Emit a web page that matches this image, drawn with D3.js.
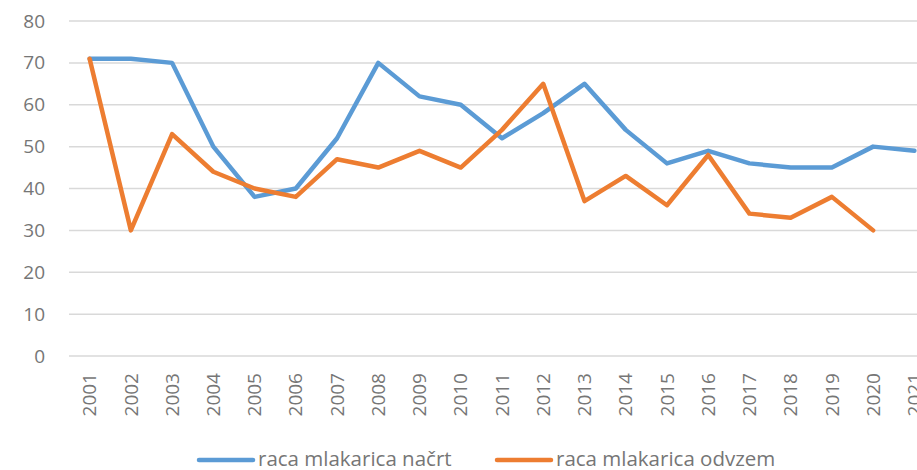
<!DOCTYPE html>
<html>
<head>
<meta charset="utf-8">
<script src="https://cdn.jsdelivr.net/npm/d3@7"></script>
<style>
  body { margin: 0; background: #fff; }
  svg { display: block; }
  text { font-family: "Open Sans", Lato, sans-serif; fill: #767676; }
</style>
</head>
<body>
<script>
// Data
const years = ["2001", "2002", "2003", "2004", "2005", "2006", "2007", "2008", "2009", "2010",
               "2011", "2012", "2013", "2014", "2015", "2016", "2017", "2018", "2019", "2020", "2021"];
const nacrt = [71, 71, 70, 50, 38, 40, 52, 70, 62, 60, 52, 58, 65, 54, 46, 49, 46, 45, 45, 50, 49];
const odvzem = [71, 30, 53, 44, 40, 38, 47, 45, 49, 45, 54, 65, 37, 43, 36, 48, 34, 33, 38, 30, null];
const yTicks = [0, 10, 20, 30, 40, 50, 60, 70, 80];
const seriesNames = ["raca mlakarica načrt", "raca mlakarica odvzem"];
const colors = ["#5B9BD5", "#ED7D31"];

// Set up SVG dimensions and margins
let width = 917,
    height = 470;

let margin = { top: 21, bottom: 114, left: 69, right: -18 };

let svg = d3.select('body')
    .append('svg')
    .attr('width', width)
    .attr('height', height);

// x scale (plot runs past the right edge, like the cropped original)
let xScale = d3.scaleBand()
    .domain(years)
    .range([margin.left, width - margin.right]);

let yScale = d3.scaleLinear()
    .domain([0, 80])
    .range([height - margin.bottom, margin.top]);

// Gridlines
svg.append('g')
    .selectAll('line')
    .data(yTicks)
    .enter().append('line')
    .attr('x1', margin.left)
    .attr('x2', width - margin.right)
    .attr('y1', d => yScale(d))
    .attr('y2', d => yScale(d))
    .attr('stroke', '#D9D9D9')
    .attr('stroke-width', 1.5);

// y axis labels
let yAxis = svg.append('g')
    .attr('transform', `translate(${margin.left - 24},0)`)
    .call(d3.axisLeft(yScale).tickValues(yTicks).tickSize(0).tickPadding(0));
yAxis.select('.domain').remove();
yAxis.selectAll('text')
    .style('font-size', '19px')
    .attr('fill', '#767676');

// x axis labels (rotated)
let xAxis = svg.append('g')
    .attr('transform', `translate(0, ${height - margin.bottom})`)
    .call(d3.axisBottom(xScale).tickSize(0).tickPadding(0));
xAxis.select('.domain').remove();
xAxis.selectAll('text')
    .style('font-size', '19px')
    .attr('fill', '#767676')
    .attr('text-anchor', 'end')
    .attr('transform', 'rotate(-90)')
    .attr('x', -17)
    .attr('y', 0)
    .attr('dy', '0.35em');

// Lines
const line = d3.line()
    .defined(d => d.v != null)
    .x(d => xScale(d.year) + xScale.bandwidth() / 2)
    .y(d => yScale(d.v));

[nacrt, odvzem].forEach(function(values, i) {
    svg.append('path')
        .datum(years.map((y, j) => ({ year: y, v: values[j] })))
        .attr('fill', 'none')
        .attr('stroke', colors[i])
        .attr('stroke-width', 4.5)
        .attr('stroke-linejoin', 'round')
        .attr('stroke-linecap', 'round')
        .attr('d', line);
});

// Legend
const legendX = [199, 497];
seriesNames.forEach(function(name, i) {
    let g = svg.append('g').attr('transform', `translate(${legendX[i]}, 460)`);
    g.append('line')
        .attr('x1', 0).attr('x2', 54)
        .attr('stroke', colors[i])
        .attr('stroke-width', 4.5)
        .attr('stroke-linecap', 'round');
    g.append('text')
        .attr('x', 59)
        .attr('dy', '0.3em')
        .style('font-size', '20.5px')
        .text(name);
});
</script>
</body>
</html>
